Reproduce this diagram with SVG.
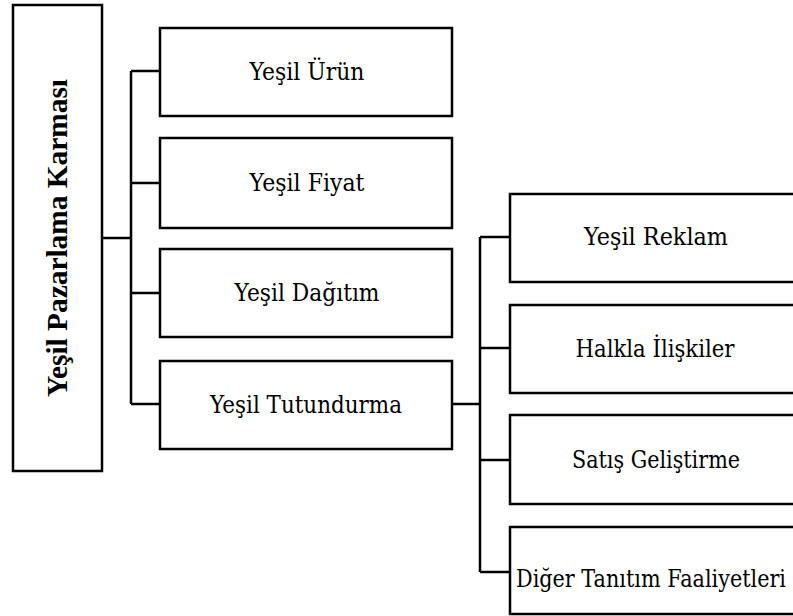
<svg xmlns="http://www.w3.org/2000/svg" width="793" height="616" viewBox="0 0 793 616">
<style>
.box{fill:#fff;stroke:#000;stroke-width:2.5}
.ln{fill:none;stroke:#000;stroke-width:2.5}
.t{font-family:"DejaVu Serif","Liberation Serif",serif;font-size:24px;font-weight:normal;text-anchor:middle;fill:#000}
.tb{font-family:"Liberation Serif","Times New Roman","DejaVu Serif",serif;font-size:29px;font-weight:bold;text-anchor:middle;fill:#000}
</style>
<rect width="793" height="616" fill="#fff"/>
<g id="connectors">
<path class="ln" d="M102 238H131M131 71V404M131 71H160M131 183H160M131 293H160M131 404H160"/>
<path class="ln" d="M452 404H480M480 237V572M480 237H510M480 348H510M480 460H510M480 572H510"/>
</g>
<g id="root">
<rect class="box" x="13" y="5" width="89" height="466"/>
<text class="tb" transform="translate(67 238) rotate(-90)" textLength="318" lengthAdjust="spacingAndGlyphs">Yeşil Pazarlama Karması</text>
</g>
<g id="urun">
<rect class="box" x="160" y="28" width="292" height="88"/>
<text class="t" x="307" y="80" textLength="115" lengthAdjust="spacingAndGlyphs">Yeşil Ürün</text>
</g>
<g id="fiyat">
<rect class="box" x="160" y="138" width="292" height="90"/>
<text class="t" x="307" y="191" textLength="115" lengthAdjust="spacingAndGlyphs">Yeşil Fiyat</text>
</g>
<g id="dagitim">
<rect class="box" x="160" y="249" width="292" height="88"/>
<text class="t" x="307" y="301" textLength="145" lengthAdjust="spacingAndGlyphs">Yeşil Dağıtım</text>
</g>
<g id="tutundurma">
<rect class="box" x="160" y="361" width="292" height="88"/>
<text class="t" x="306" y="413" textLength="192" lengthAdjust="spacingAndGlyphs">Yeşil Tutundurma</text>
</g>
<g id="reklam">
<rect class="box" x="510" y="194" width="286" height="88"/>
<text class="t" x="656" y="245" textLength="144" lengthAdjust="spacingAndGlyphs">Yeşil Reklam</text>
</g>
<g id="halkla">
<rect class="box" x="510" y="305" width="286" height="88"/>
<text class="t" x="655" y="357" textLength="159" lengthAdjust="spacingAndGlyphs">Halkla İlişkiler</text>
</g>
<g id="satis">
<rect class="box" x="510" y="415" width="286" height="89"/>
<text class="t" x="656" y="468" textLength="168" lengthAdjust="spacingAndGlyphs">Satış Geliştirme</text>
</g>
<g id="diger">
<rect class="box" x="510" y="527" width="286" height="87"/>
<text class="t" x="651" y="587" textLength="270" lengthAdjust="spacingAndGlyphs">Diğer Tanıtım Faaliyetleri</text>
</g>
</svg>
